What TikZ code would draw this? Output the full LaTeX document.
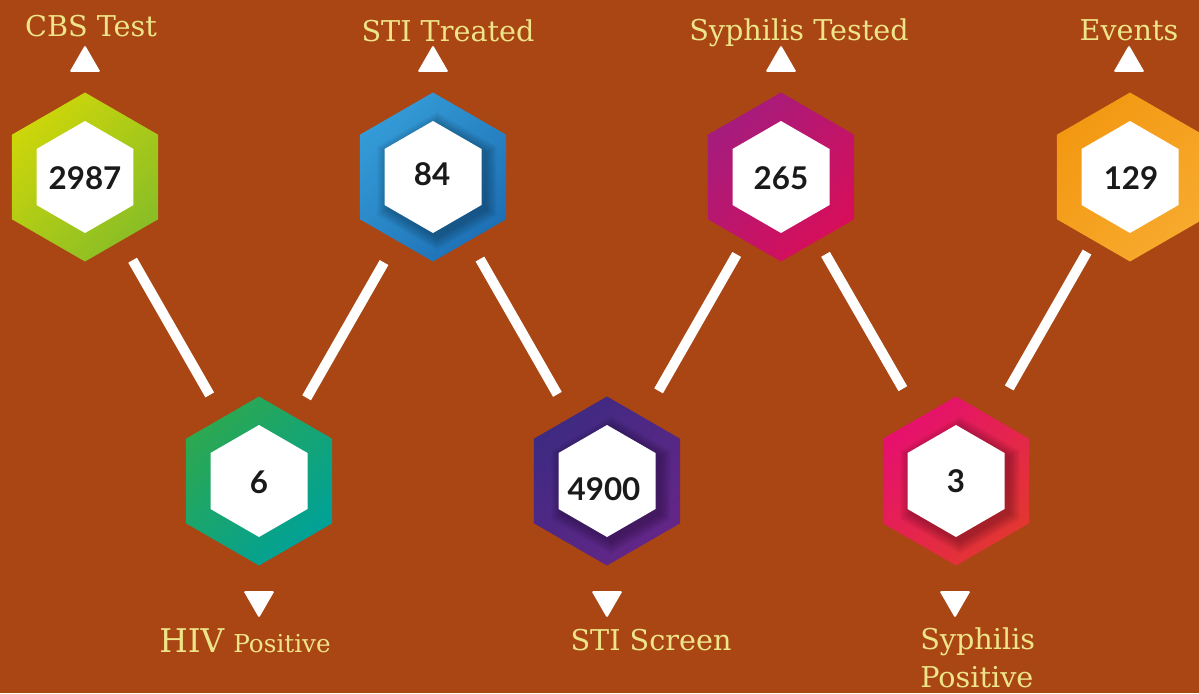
\documentclass[tikz,border=0pt]{standalone}
\usepackage{fontspec}
\setmainfont{DejaVu Serif}
\newfontfamily\numfont{Lato}
\usetikzlibrary{shapes.geometric}

\definecolor{bgbrown}{RGB}{170,69,20}
\definecolor{labelyellow}{RGB}{238,229,138}
\definecolor{numblack}{RGB}{26,26,26}
\definecolor{cbsA}{RGB}{205,214,10}
\definecolor{cbsB}{RGB}{137,190,38}
\definecolor{hivA}{RGB}{44,168,80}
\definecolor{hivB}{RGB}{0,161,152}
\definecolor{treatedA}{RGB}{52,155,215}
\definecolor{treatedB}{RGB}{30,112,180}
\definecolor{testedA}{RGB}{165,28,125}
\definecolor{testedB}{RGB}{215,14,90}
\definecolor{screenA}{RGB}{62,42,130}
\definecolor{screenB}{RGB}{100,38,135}
\definecolor{syphposA}{RGB}{230,16,110}
\definecolor{syphposB}{RGB}{226,55,48}
\definecolor{eventsA}{RGB}{243,152,18}
\definecolor{eventsB}{RGB}{247,170,45}

\tikzset{
  hexouter/.style 2 args={regular polygon, regular polygon sides=6,
    shape border rotate=90, minimum size=126.75pt, inner sep=0pt,
    outer sep=0pt, top color=#1, bottom color=#2, shading angle=45},
  hexinner/.style={regular polygon, regular polygon sides=6,
    shape border rotate=90, minimum size=84pt, inner sep=0pt, fill=white},
  hexshadow/.style={regular polygon, regular polygon sides=6,
    shape border rotate=90, inner sep=0pt, fill=black, fill opacity=0.035},
  count/.style={inner sep=0pt, text=numblack,
    font=\numfont\bfseries\fontsize{23.5pt}{23.5pt}\selectfont},
  pointup/.style={regular polygon, regular polygon sides=3,
    minimum size=26.8pt, inner sep=0pt, fill=white, rounded corners=1pt},
  pointdown/.style={pointup, shape border rotate=180},
  link/.style={draw=white, line width=7.5pt},
  caption/.style={text=labelyellow, anchor=base, inner sep=0pt,
    font=\fontsize{21.5pt}{28pt}\selectfont}
}

\begin{document}
\begin{tikzpicture}[x=0.75pt,y=-0.75pt]
  \useasboundingbox (0,0) rectangle (1199,693);
  \fill[bgbrown] (0,0) rectangle (1199,693);

  % top row
  \node[hexouter={cbsA}{cbsB}] (cbs) at (85,177) {};
  \node[hexouter={treatedA}{treatedB}] (treated) at (433,177) {};
  \node[hexouter={testedA}{testedB}] (tested) at (781,177) {};
  \node[hexouter={eventsA}{eventsB}] (events) at (1130,177) {};

  % bottom row
  \node[hexouter={hivA}{hivB}] (hiv) at (259,481) {};
  \node[hexouter={screenA}{screenB}] (screen) at (607,481) {};
  \node[hexouter={syphposA}{syphposB}] (syphpos) at (956,481) {};

  % shadows round the inner hexagons
  \foreach \k in {1,...,8} {
    \node[hexshadow, minimum size=84pt+\k*2.4pt] at (437,181) {};
    \node[hexshadow, minimum size=84pt+\k*2.4pt] at (611,485) {};
    \node[hexshadow, minimum size=84pt+\k*2.4pt] at (960,485) {};
  }

  \node[hexinner] (cbsin) at (85,177) {};
  \node[hexinner] (treatedin) at (433,177) {};
  \node[hexinner] (testedin) at (781,177) {};
  \node[hexinner] (eventsin) at (1130,177) {};
  \node[hexinner] (hivin) at (259,481) {};
  \node[hexinner] (screenin) at (607,481) {};
  \node[hexinner] (syphposin) at (956,481) {};

  \node[count] (cbsnum) at (85,178) {2987};
  \node[count] (treatednum) at (432,174) {84};
  \node[count] (testednum) at (781,178) {265};
  \node[count] (eventsnum) at (1131,178) {129};
  \node[count] (hivnum) at (259,482) {6};
  \node[count] (screennum) at (604,489) {4900};
  \node[count] (syphposnum) at (956,481) {3};

  % connectors
  \draw[link, shorten <=17pt, shorten >=19.5pt] (cbs) -- (hiv);
  \draw[link, shorten <=19pt, shorten >=17pt] (treated) -- (hiv);
  \draw[link, shorten <=16pt, shorten >=20pt] (treated) -- (screen);
  \draw[link, shorten <=12pt, shorten >=23pt] (tested) -- (screen);
  \draw[link, shorten <=12pt, shorten >=25pt] (tested) -- (syphpos);
  \draw[link, shorten <=10pt, shorten >=25.5pt] (events) -- (syphpos);

  % pointers and captions
  \node[pointup] (cbsptr) at (85,63) {};
  \node[pointup] (treatedptr) at (433,63) {};
  \node[pointup] (testedptr) at (781,63) {};
  \node[pointup] (eventsptr) at (1129,63) {};
  \node[pointdown] (hivptr) at (259,600) {};
  \node[pointdown] (screenptr) at (607,600) {};
  \node[pointdown] (syphposptr) at (955,600) {};

  \node[caption] (cbscap) at (91,36) {CBS Test};
  \node[caption] (treatedcap) at (448,41) {STI Treated};
  \node[caption] (testedcap) at (799,40) {Syphilis Tested};
  \node[caption] (eventscap) at (1129,40) {Events};
  \node[caption] (hivcap) at (245,652)
    {{\fontsize{24.5pt}{28pt}\selectfont HIV} {\fontsize{18.5pt}{28pt}\selectfont Positive}};
  \node[caption] (screencap) at (651,650) {STI Screen};
  \node[caption, anchor=base west, align=left] (syphposcap) at (920,687)
    {Syphilis\\Positive};
\end{tikzpicture}
\end{document}
